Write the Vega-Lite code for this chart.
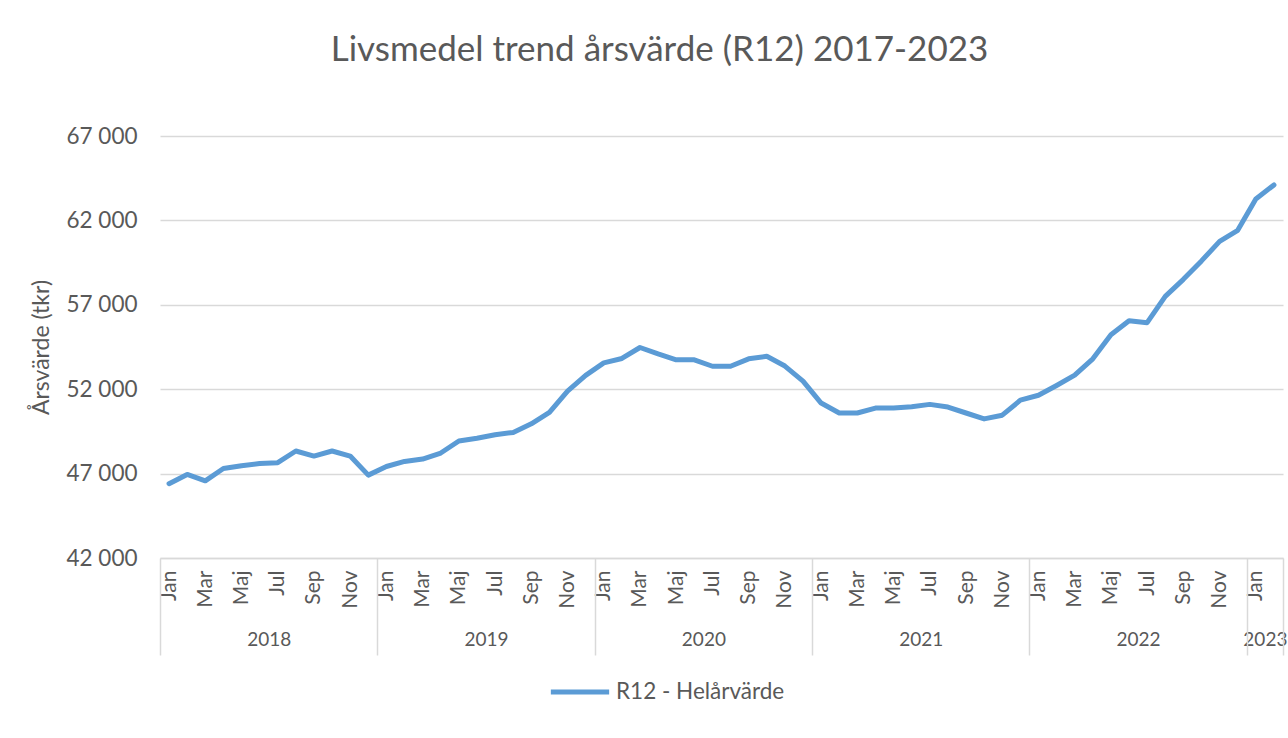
{
  "$schema": "https://vega.github.io/schema/vega-lite/v6.json",
  "width": 1123,
  "height": 422,
  "autosize": "none",
  "padding": {"left": 160, "top": 136, "right": 5, "bottom": 180},
  "background": "white",
  "config": {"font": "Lato", "view": {"stroke": null}},
  "title": {
    "text": "Livsmedel trend årsvärde (R12) 2017-2023",
    "fontSize": 35,
    "fontWeight": "normal",
    "color": "#595959",
    "anchor": "middle",
    "dx": -62,
    "offset": 57
  },
  "data": {
    "values": [
      {"i": 0, "v": 46400}, {"i": 1, "v": 46950}, {"i": 2, "v": 46570}, {"i": 3, "v": 47300},
      {"i": 4, "v": 47470}, {"i": 5, "v": 47600}, {"i": 6, "v": 47650}, {"i": 7, "v": 48340},
      {"i": 8, "v": 48040}, {"i": 9, "v": 48340}, {"i": 10, "v": 48040}, {"i": 11, "v": 46910},
      {"i": 12, "v": 47420}, {"i": 13, "v": 47720}, {"i": 14, "v": 47860}, {"i": 15, "v": 48220},
      {"i": 16, "v": 48930}, {"i": 17, "v": 49090}, {"i": 18, "v": 49300}, {"i": 19, "v": 49440},
      {"i": 20, "v": 49950}, {"i": 21, "v": 50620}, {"i": 22, "v": 51880}, {"i": 23, "v": 52820},
      {"i": 24, "v": 53560}, {"i": 25, "v": 53820}, {"i": 26, "v": 54470}, {"i": 27, "v": 54090},
      {"i": 28, "v": 53740}, {"i": 29, "v": 53740}, {"i": 30, "v": 53360}, {"i": 31, "v": 53360},
      {"i": 32, "v": 53800}, {"i": 33, "v": 53950}, {"i": 34, "v": 53370}, {"i": 35, "v": 52480},
      {"i": 36, "v": 51180}, {"i": 37, "v": 50590}, {"i": 38, "v": 50590}, {"i": 39, "v": 50880},
      {"i": 40, "v": 50880}, {"i": 41, "v": 50960}, {"i": 42, "v": 51100}, {"i": 43, "v": 50940},
      {"i": 44, "v": 50590}, {"i": 45, "v": 50240}, {"i": 46, "v": 50460}, {"i": 47, "v": 51350},
      {"i": 48, "v": 51640}, {"i": 49, "v": 52220}, {"i": 50, "v": 52830}, {"i": 51, "v": 53800},
      {"i": 52, "v": 55220}, {"i": 53, "v": 56050}, {"i": 54, "v": 55940}, {"i": 55, "v": 57500},
      {"i": 56, "v": 58510}, {"i": 57, "v": 59600}, {"i": 58, "v": 60760}, {"i": 59, "v": 61410},
      {"i": 60, "v": 63270}, {"i": 61, "v": 64100}
    ]
  },
  "layer": [
    {
      "mark": {"type": "line", "strokeWidth": 5, "strokeCap": "round", "strokeJoin": "round"},
      "encoding": {
        "x": {
          "field": "i",
          "type": "quantitative",
          "scale": {"domain": [-0.5, 61.5], "nice": false, "zero": false},
          "axis": {
            "orient": "bottom",
            "title": null,
            "values": [0, 2, 4, 6, 8, 10, 12, 14, 16, 18, 20, 22, 24, 26, 28, 30, 32, 34, 36, 38, 40, 42, 44, 46, 48, 50, 52, 54, 56, 58, 60],
            "labelExpr": "['Jan','Feb','Mar','Apr','Maj','Jun','Jul','Aug','Sep','Okt','Nov','Dec'][datum.value % 12]",
            "labelAngle": 270,
            "labelAlign": "right",
            "labelBaseline": "middle",
            "labelPadding": 12,
            "labelFontSize": 21,
            "labelColor": "#595959",
            "labelOverlap": false,
            "ticks": false,
            "grid": false,
            "domain": true,
            "domainColor": "#d9d9d9",
            "domainWidth": 1.5
          }
        },
        "y": {
          "field": "v",
          "type": "quantitative",
          "scale": {"domain": [42000, 67000], "nice": false, "zero": false},
          "axis": {
            "title": "Årsvärde (tkr)",
            "titleFontSize": 23,
            "titleFontWeight": "normal",
            "titleColor": "#595959",
            "titlePadding": 12,
            "values": [42000, 47000, 52000, 57000, 62000, 67000],
            "labelExpr": "replace(format(datum.value, ',d'), ',', ' ')",
            "labelFontSize": 22.5,
            "labelColor": "#595959",
            "labelPadding": 23,
            "ticks": false,
            "domain": false,
            "grid": true,
            "gridColor": "#d9d9d9",
            "gridWidth": 1.5
          }
        },
        "color": {
          "datum": "R12 - Helårvärde",
          "scale": {"range": ["#5B9BD5"]},
          "legend": {
            "orient": "none",
            "legendX": 388,
            "legendY": 524,
            "title": null,
            "symbolType": "stroke",
            "symbolSize": 3400,
            "symbolStrokeWidth": 5,
            "labelFontSize": 22.5,
            "labelLimit": 500,
            "labelColor": "#595959",
            "labelOffset": 4
          }
        }
      }
    },
    {
      "mark": {"type": "rule", "strokeOpacity": 0},
      "encoding": {
        "x": {
          "field": "i",
          "type": "quantitative",
          "axis": {
            "orient": "bottom",
            "title": null,
            "values": [5.5, 17.5, 29.5, 41.5, 53.5, 60.5],
            "labelExpr": "'' + (floor(datum.value / 12) + 2018)",
            "labelPadding": 72,
            "labelFontSize": 19,
            "labelColor": "#595959",
            "labelOverlap": false,
            "labelFlush": false,
            "ticks": false,
            "grid": false,
            "domain": false
          }
        }
      }
    },
    {
      "mark": {"type": "rule", "strokeOpacity": 0},
      "encoding": {
        "x": {
          "field": "i",
          "type": "quantitative",
          "axis": {
            "orient": "bottom",
            "title": null,
            "values": [-0.5, 11.5, 23.5, 35.5, 47.5, 59.5, 61.5],
            "labels": false,
            "ticks": true,
            "tickSize": 97,
            "tickColor": "#d9d9d9",
            "tickWidth": 1.5,
            "grid": false,
            "domain": false
          }
        }
      }
    }
  ],
  "resolve": {"axis": {"x": "independent"}}
}
